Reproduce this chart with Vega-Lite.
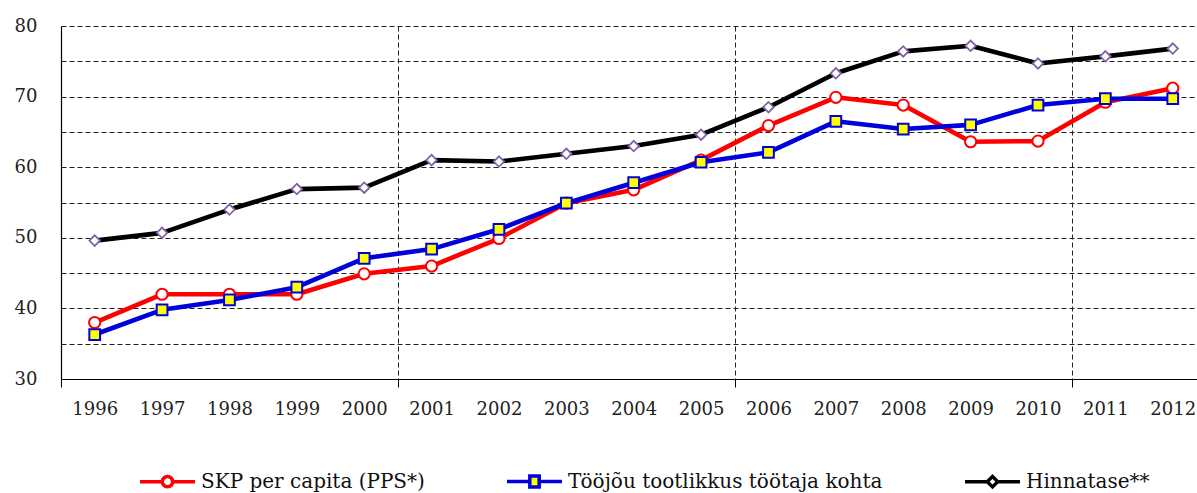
{
  "$schema": "https://vega.github.io/schema/vega-lite/v6.json",
  "width": 1136,
  "height": 353,
  "autosize": {"type": "none"},
  "padding": {"left": 61, "top": 26, "right": 0, "bottom": 114},
  "background": "white",
  "config": {
    "view": {"stroke": null},
    "font": "DejaVu Serif",
    "axis": {"labelFont": "DejaVu Serif", "labelFontSize": 18, "labelColor": "#222", "titleFont": "DejaVu Serif"},
    "legend": {"labelFont": "DejaVu Serif", "labelFontSize": 20, "labelColor": "#111"}
  },
  "data": {"values": [
    {"year": 1996, "series": "SKP per capita (PPS*)", "value": 38.0},
    {"year": 1997, "series": "SKP per capita (PPS*)", "value": 42.0},
    {"year": 1998, "series": "SKP per capita (PPS*)", "value": 42.0},
    {"year": 1999, "series": "SKP per capita (PPS*)", "value": 42.0},
    {"year": 2000, "series": "SKP per capita (PPS*)", "value": 44.9},
    {"year": 2001, "series": "SKP per capita (PPS*)", "value": 46.0},
    {"year": 2002, "series": "SKP per capita (PPS*)", "value": 49.9},
    {"year": 2003, "series": "SKP per capita (PPS*)", "value": 54.9},
    {"year": 2004, "series": "SKP per capita (PPS*)", "value": 56.8},
    {"year": 2005, "series": "SKP per capita (PPS*)", "value": 61.0},
    {"year": 2006, "series": "SKP per capita (PPS*)", "value": 65.9},
    {"year": 2007, "series": "SKP per capita (PPS*)", "value": 69.9},
    {"year": 2008, "series": "SKP per capita (PPS*)", "value": 68.8},
    {"year": 2009, "series": "SKP per capita (PPS*)", "value": 63.6},
    {"year": 2010, "series": "SKP per capita (PPS*)", "value": 63.7},
    {"year": 2011, "series": "SKP per capita (PPS*)", "value": 69.2},
    {"year": 2012, "series": "SKP per capita (PPS*)", "value": 71.2},
    {"year": 1996, "series": "Tööjõu tootlikkus töötaja kohta", "value": 36.3},
    {"year": 1997, "series": "Tööjõu tootlikkus töötaja kohta", "value": 39.8},
    {"year": 1998, "series": "Tööjõu tootlikkus töötaja kohta", "value": 41.2},
    {"year": 1999, "series": "Tööjõu tootlikkus töötaja kohta", "value": 43.0},
    {"year": 2000, "series": "Tööjõu tootlikkus töötaja kohta", "value": 47.1},
    {"year": 2001, "series": "Tööjõu tootlikkus töötaja kohta", "value": 48.4},
    {"year": 2002, "series": "Tööjõu tootlikkus töötaja kohta", "value": 51.2},
    {"year": 2003, "series": "Tööjõu tootlikkus töötaja kohta", "value": 54.9},
    {"year": 2004, "series": "Tööjõu tootlikkus töötaja kohta", "value": 57.8},
    {"year": 2005, "series": "Tööjõu tootlikkus töötaja kohta", "value": 60.7},
    {"year": 2006, "series": "Tööjõu tootlikkus töötaja kohta", "value": 62.1},
    {"year": 2007, "series": "Tööjõu tootlikkus töötaja kohta", "value": 66.5},
    {"year": 2008, "series": "Tööjõu tootlikkus töötaja kohta", "value": 65.4},
    {"year": 2009, "series": "Tööjõu tootlikkus töötaja kohta", "value": 66.0},
    {"year": 2010, "series": "Tööjõu tootlikkus töötaja kohta", "value": 68.8},
    {"year": 2011, "series": "Tööjõu tootlikkus töötaja kohta", "value": 69.7},
    {"year": 2012, "series": "Tööjõu tootlikkus töötaja kohta", "value": 69.7},
    {"year": 1996, "series": "Hinnatase**", "value": 49.6},
    {"year": 1997, "series": "Hinnatase**", "value": 50.7},
    {"year": 1998, "series": "Hinnatase**", "value": 54.0},
    {"year": 1999, "series": "Hinnatase**", "value": 56.9},
    {"year": 2000, "series": "Hinnatase**", "value": 57.1},
    {"year": 2001, "series": "Hinnatase**", "value": 61.0},
    {"year": 2002, "series": "Hinnatase**", "value": 60.8},
    {"year": 2003, "series": "Hinnatase**", "value": 61.9},
    {"year": 2004, "series": "Hinnatase**", "value": 63.0},
    {"year": 2005, "series": "Hinnatase**", "value": 64.6},
    {"year": 2006, "series": "Hinnatase**", "value": 68.5},
    {"year": 2007, "series": "Hinnatase**", "value": 73.3},
    {"year": 2008, "series": "Hinnatase**", "value": 76.4},
    {"year": 2009, "series": "Hinnatase**", "value": 77.2},
    {"year": 2010, "series": "Hinnatase**", "value": 74.7},
    {"year": 2011, "series": "Hinnatase**", "value": 75.7},
    {"year": 2012, "series": "Hinnatase**", "value": 76.8}
  ]},
  "resolve": {"axis": {"x": "independent", "y": "independent"}},
  "layer": [
    {
      "mark": {"type": "line", "strokeWidth": 4.6, "strokeJoin": "round", "strokeCap": "round"},
      "encoding": {
        "x": {
          "field": "year", "type": "quantitative",
          "scale": {"domain": [1995.5, 2012.36], "nice": false, "zero": false},
          "axis": {
            "orient": "bottom", "title": null,
            "values": [1995.5, 2000.5, 2005.5, 2010.5],
            "labels": false,
            "ticks": true, "tickSize": 8, "tickColor": "#000", "tickWidth": 1,
            "domain": true, "domainColor": "#000", "domainWidth": 1.2,
            "grid": true, "gridDash": [5, 3], "gridColor": "#222", "gridWidth": 1,
            "gridOpacity": {"expr": "datum.value > 1996 ? 1 : 0"}
          }
        },
        "y": {
          "field": "value", "type": "quantitative",
          "scale": {"domain": [30, 80], "nice": false, "zero": false},
          "axis": {
            "orient": "left", "title": null,
            "values": [30, 35, 40, 45, 50, 55, 60, 65, 70, 75, 80],
            "labelExpr": "datum.value % 10 == 0 ? datum.label : ''",
            "ticks": false, "labelPadding": 24,
            "domain": true, "domainColor": "#000", "domainWidth": 1.2,
            "grid": true, "gridDash": [5, 3], "gridColor": "#222", "gridWidth": 1,
            "gridOpacity": {"expr": "datum.value > 30 ? 1 : 0"}
          }
        },
        "color": {
          "field": "series", "type": "nominal",
          "scale": {
            "domain": ["SKP per capita (PPS*)", "Tööjõu tootlikkus töötaja kohta", "Hinnatase**"],
            "range": ["#FF0000", "#0000DD", "#000000"]
          },
          "legend": {
            "title": null,
            "orient": "none",
            "direction": "horizontal",
            "columns": 3,
            "gridAlign": "each",
            "columnPadding": 75,
            "legendX": 77,
            "legendY": 426,
            "symbolSize": 3025,
            "symbolStrokeWidth": 3.5,
            "labelOffset": 4,
            "labelLimit": 0,
            "labelFontSize": 20,
            "encode": {
              "symbols": {
                "update": {
                  "shape": {"signal": "datum.value === 'SKP per capita (PPS*)' ? 'M-1,0H-0.2M0.2,0H1M-0.19,0A0.19,0.19 0 1,0 0.19,0A0.19,0.19 0 1,0 -0.19,0Z' : datum.value === 'Hinnatase**' ? 'M-1,0H-0.2M0.2,0H1M0,-0.19L0.19,0L0,0.19L-0.19,0Z' : 'M-1,0H-0.2M0.2,0H1M-0.17,-0.2H0.17V0.2H-0.17Z'"},
                  "fill": {"signal": "datum.value === 'Tööjõu tootlikkus töötaja kohta' ? '#FFFF00' : '#FFFFFF'"},
                  "strokeWidth": {"value": 3.5},
                  "opacity": {"value": 1},
                  "fillOpacity": {"value": 1}
                }
              }
            }
          }
        }
      }
    },
    {
      "transform": [{"filter": "datum.series === 'SKP per capita (PPS*)'"}],
      "mark": {"type": "point", "shape": "circle", "filled": false, "fill": "#FFFFFF", "stroke": "#FF0000", "strokeWidth": 2, "size": 125, "opacity": 1},
      "encoding": {
        "x": {
          "field": "year", "type": "quantitative",
          "axis": {
            "orient": "bottom", "title": null,
            "values": [1996, 1997, 1998, 1999, 2000, 2001, 2002, 2003, 2004, 2005, 2006, 2007, 2008, 2009, 2010, 2011, 2012],
            "format": "d", "labelPadding": 21,
            "ticks": false, "domain": false, "grid": false
          }
        },
        "y": {"field": "value", "type": "quantitative", "axis": null}
      }
    },
    {
      "transform": [{"filter": "datum.series === 'Tööjõu tootlikkus töötaja kohta'"}],
      "mark": {"type": "point", "shape": "square", "filled": false, "fill": "#FFFF00", "stroke": "#0000DD", "strokeWidth": 2, "size": 115, "opacity": 1},
      "encoding": {
        "x": {"field": "year", "type": "quantitative", "axis": null},
        "y": {"field": "value", "type": "quantitative", "axis": null}
      }
    },
    {
      "transform": [{"filter": "datum.series === 'Hinnatase**'"}],
      "mark": {"type": "point", "shape": "diamond", "filled": false, "fill": "#FFFFFF", "stroke": "#8064A2", "strokeWidth": 1.8, "size": 110, "opacity": 1},
      "encoding": {
        "x": {"field": "year", "type": "quantitative", "axis": null},
        "y": {"field": "value", "type": "quantitative", "axis": null}
      }
    }
  ]
}
